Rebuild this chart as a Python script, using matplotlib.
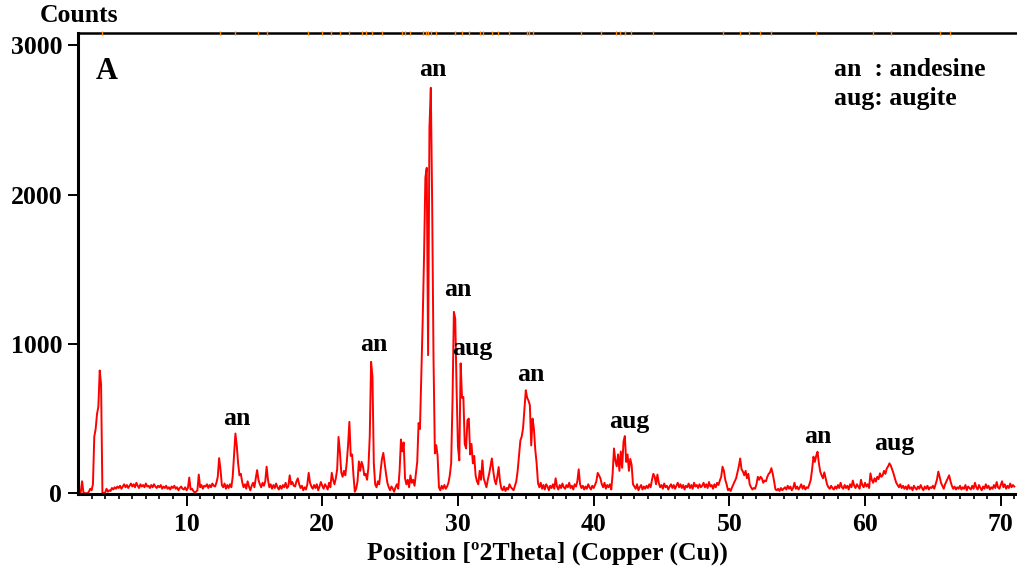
import numpy as np
import matplotlib
matplotlib.use("Agg")
import matplotlib.pyplot as plt

# scan settings: 2.0 .. 71.0 deg 2Theta, 0.1 deg step
start_angle = 2.0
step_size = 0.1

# counts, one row per degree (x.0 .. x.9)
counts = [
    0, 0, 5, 80, 5, 0, 0, 0, 10, 30,                       # 2
    20, 60, 380, 430, 530, 580, 822, 730, 0, 0,            # 3
    5, 30, 10, 20, 15, 35, 25, 40, 30, 45,                 # 4
    35, 50, 30, 45, 60, 40, 55, 35, 50, 65,                # 5
    45, 60, 40, 70, 50, 35, 60, 45, 55, 40,                # 6
    65, 45, 50, 35, 55, 40, 60, 45, 35, 50,                # 7
    40, 55, 30, 45, 35, 50, 30, 40, 25, 45,                # 8
    35, 50, 30, 40, 20, 35, 45, 30, 25, 40,                # 9
    20, 35, 105, 25, 30, 15, 5, 10, 20, 125,               # 10
    40, 55, 30, 50, 45, 60, 35, 55, 40, 65,                # 11
    50, 45, 70, 110, 235, 160, 55, 40, 65, 30,             # 12
    55, 35, 60, 40, 110, 250, 400, 320, 200, 120,          # 13
    130, 75, 40, 60, 30, 80, 45, 20, 50, 70,               # 14
    40, 100, 155, 90, 60, 40, 70, 50, 80, 178,             # 15
    90, 40, 60, 30, 55, 35, 65, 40, 25, 50,                # 16
    30, 55, 40, 70, 35, 45, 120, 60, 75, 50,               # 17
    45, 80, 100, 60, 35, 50, 20, 40, 25, 60,               # 18
    137, 70, 45, 30, 55, 35, 60, 20, 45, 75,               # 19
    50, 30, 60, 45, 25, 70, 40, 137, 90, 60,               # 20
    100, 160, 377, 280, 140, 110, 150, 120, 200, 320,      # 21
    478, 250, 260, 120, 10, 30, 80, 213, 150, 210,         # 22
    180, 120, 130, 90, 170, 380, 880, 780, 200, 60,        # 23
    40, 80, 60, 150, 230, 270, 200, 130, 70, 40,           # 24
    20, 45, 30, 10, 40, 60, 30, 150, 360, 280,             # 25
    340, 100, 60, 90, 40, 120, 70, 90, 50, 130,            # 26
    210, 470, 430, 780, 1150, 1580, 2115, 2180, 925, 2447, # 27
    2716, 1937, 900, 267, 322, 250, 40, 20, 50, 30,        # 28
    55, 30, 45, 70, 120, 200, 620, 1215, 1170, 700,        # 29
    312, 220, 870, 640, 645, 330, 300, 490, 500, 260,      # 30
    330, 200, 250, 120, 80, 60, 150, 90, 220, 100,         # 31
    70, 40, 90, 130, 180, 233, 150, 90, 60, 110,           # 32
    175, 80, 30, 20, 45, 15, 35, 25, 60, 40,               # 33
    30, 20, 50, 80, 150, 250, 353, 380, 436, 560,          # 34
    690, 640, 620, 590, 320, 500, 430, 290, 200, 67,       # 35
    40, 70, 30, 55, 25, 60, 45, 20, 50, 35,                # 36
    60, 30, 100, 45, 25, 55, 35, 65, 40, 30,               # 37
    55, 40, 70, 35, 50, 25, 60, 45, 80, 160,               # 38
    60, 35, 50, 25, 45, 30, 60, 40, 25, 50,                # 39
    35, 55, 80, 136, 120, 100, 60, 40, 70, 30,             # 40
    55, 40, 60, 25, 130, 300, 220, 180, 260, 150,          # 41
    280, 170, 345, 383, 210, 260, 150, 230, 190, 60,       # 42
    45, 30, 60, 20, 40, 55, 25, 45, 30, 50,                # 43
    35, 60, 40, 90, 130, 110, 60, 125, 70, 40,             # 44
    55, 30, 65, 40, 50, 25, 45, 60, 35, 55,                # 45
    30, 50, 70, 40, 60, 35, 55, 25, 50, 40,                # 46
    65, 35, 55, 30, 70, 45, 55, 35, 60, 40,                # 47
    50, 70, 40, 60, 35, 75, 45, 55, 30, 60,                # 48
    40, 70, 55, 85, 110, 178, 150, 90, 60, 20,             # 49
    30, 15, 40, 60, 80, 100, 140, 180, 233, 160,           # 50
    145, 120, 150, 100, 130, 60, 40, 25, 35, 30,           # 51
    60, 110, 90, 110, 100, 70, 85, 80, 110, 130,           # 52
    140, 168, 130, 80, 25, 20, 30, 15, 35, 20,             # 53
    30, 40, 25, 50, 30, 45, 20, 35, 70, 30,                # 54
    45, 25, 40, 60, 30, 50, 25, 40, 35, 60,                # 55
    90, 160, 245, 210, 250, 278, 200, 145, 120, 100,       # 56
    140, 100, 60, 40, 30, 50, 35, 25, 45, 30,              # 57
    55, 35, 70, 40, 30, 55, 35, 50, 25, 60,                # 58
    40, 85, 50, 35, 60, 45, 30, 90, 55, 40,                # 59
    70, 45, 60, 35, 133, 90, 70, 100, 78, 110,             # 60
    95, 133, 110, 120, 150, 130, 165, 180, 200, 185,       # 61
    160, 133, 100, 70, 55, 40, 60, 35, 50, 30,             # 62
    45, 25, 55, 30, 40, 20, 50, 35, 25, 45,                # 63
    30, 55, 35, 20, 45, 30, 50, 25, 40, 35,                # 64
    50, 30, 60, 90, 145, 110, 70, 50, 30, 60,              # 65
    80, 100, 120, 80, 50, 30, 45, 25, 40, 30,              # 66
    50, 25, 40, 30, 55, 20, 45, 35, 25, 50,                # 67
    30, 70, 40, 25, 55, 35, 20, 45, 30, 60,                # 68
    35, 50, 25, 40, 30, 55, 35, 75, 40, 30,                # 69
    55, 80, 40, 60, 30, 50, 35, 65, 40, 55,                # 70
    45,                                                    # 71
]

# reference pattern positions (orange marks on the top frame)
ref_positions = [3.75, 12.5, 13.6, 15.3, 15.96, 18.97, 20.0, 20.66, 21.3, 21.99,
                 22.94, 23.24, 23.68, 24.41, 25.88, 26.1, 26.47, 27.43, 27.65,
                 27.79, 28.01, 28.38, 29.78, 30.29, 30.81, 31.62, 31.84, 32.5,
                 32.94, 33.75, 35.07, 35.22, 35.51, 39.04, 40.51, 41.62, 41.91,
                 42.28, 42.72, 44.34, 49.56, 50.81, 51.47, 52.28, 53.09, 56.4,
                 60.59, 61.91, 65.51, 66.25]

# phase labels above peaks
peak_labels = ["an", "an", "an", "an", "aug", "an", "aug", "an", "aug"]
label_x = [13.7, 23.8, 28.16, 30.0, 31.03, 35.37, 42.65, 56.55, 62.13]
label_y = [501, 995, 2840, 1363, 970, 795, 480, 380, 334]

two_theta = np.round(start_angle + step_size * np.arange(len(counts)), 2)

serif = ["Liberation Serif", "DejaVu Serif"]
plt.rcParams["font.family"] = serif
plt.rcParams["font.weight"] = "bold"
fs = 18.5

fig = plt.figure(figsize=(10.17, 5.72), dpi=100)
ax = fig.add_axes([0.0767, 0.1364, 0.9233, 0.8059])

ax.plot(two_theta, counts, color="#ff0000", lw=1.4)

ax.set_xlim(2.0, 71.2)
ax.set_ylim(-5, 3083)

ax.spines["right"].set_visible(False)
for s in ["left", "bottom"]:
    ax.spines[s].set_linewidth(2.2)
ax.spines["top"].set_linewidth(1.8)

ax.set_xticks([10, 20, 30, 40, 50, 60, 70])
ax.set_xticks(np.arange(3, 72, 1), minor=True)
ax.set_yticks([0, 1000, 2000, 3000])
ax.tick_params(axis="x", which="major", length=8.5, width=1.4, pad=5, labelsize=fs)
ax.tick_params(axis="x", which="minor", length=3.8, width=1.2)
ax.tick_params(axis="y", which="major", length=7.5, width=1.4, pad=4, labelsize=fs)
for lab in ax.get_xticklabels() + ax.get_yticklabels():
    lab.set_fontweight("bold")

# orange reference marks sitting on the top frame
ax.plot(ref_positions, [1.0] * len(ref_positions), "|", color="#ff8800",
        ms=3, mew=1.0, transform=ax.get_xaxis_transform(), clip_on=False,
        zorder=5)

for t, x, y in zip(peak_labels, label_x, label_y):
    ax.text(x, y, t, ha="center", va="center", fontsize=fs, fontweight="bold")

ax.text(4.12, 2823, "A", ha="center", va="center", fontsize=22, fontweight="bold")
ax.text(57.72, 2837, "an  : andesine", ha="left", va="center", fontsize=fs, fontweight="bold")
ax.text(57.72, 2643, "aug: augite", ha="left", va="center", fontsize=fs, fontweight="bold")

ax.set_xlabel("Position [º2Theta] (Copper (Cu))", fontsize=fs, fontweight="bold", labelpad=4)
fig.text(79 / 1017, 1 - 16 / 572, "Counts", ha="center", va="center",
         fontsize=fs, fontweight="bold")

fig.savefig("out.png", dpi=100)
